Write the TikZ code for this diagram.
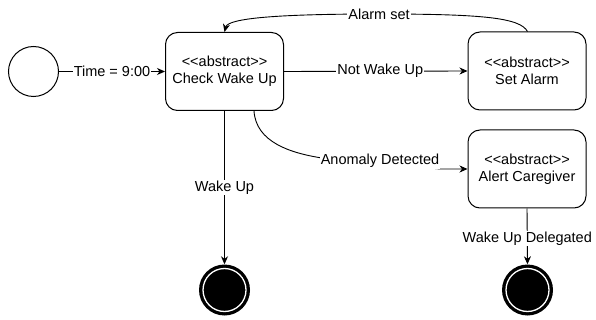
\documentclass[tikz,border=0pt]{standalone}
\usepackage{fontspec}
\setmainfont{Liberation Sans}
\usetikzlibrary{arrows.meta,calc}
\newcommand\stereo{<\kern0pt<abstract>\kern0pt>}
\tikzset{
  state/.style={draw=black, line width=1pt, rounded corners=12pt, minimum width=118pt, minimum height=78pt, align=center, fill=white, font=\fontsize{14.5}{17}\selectfont, inner sep=0pt},
  startstate/.style={draw=black, line width=1pt, circle, minimum size=50pt, inner sep=0pt, fill=white},
  endstate/.style={circle, fill=black, minimum size=51pt, inner sep=0pt},
  conn/.style={line width=0.9pt, -{Stealth[length=8pt,width=7pt,inset=2.5pt]}},
  lbl/.style={fill=white, inner sep=1pt, font=\fontsize{14.5}{17}\selectfont}
}
\begin{document}
\begin{tikzpicture}[x=1pt, y=-1pt]
\useasboundingbox (0,0) rectangle (596,320);
\node[startstate] (start) at (33.5,71.5) {};
\node[state] (cwu) at (224.5,71.5) {\stereo\\Check Wake Up};
\node[state] (sa) at (527,71) {\stereo\\Set Alarm};
\node[state] (ac) at (527,169) {\stereo\\Alert Caregiver};
\node[endstate] (end1) at (224.5,290) {};
\node[endstate] (end2) at (527.5,290) {};
\draw[white, line width=1.3pt] (end1.center) circle (21.5);
\draw[white, line width=1.3pt] (end2.center) circle (21.5);

% Time = 9:00
\draw[conn] (start.east) -- node[lbl]{Time = 9:00} (cwu.west);
% Not Wake Up
\draw[conn] (cwu.east) -- node[lbl, xshift=4.5pt]{Not Wake Up} (sa.west);
% Alarm set
\coordinate (as) at (379,14);
\draw[conn] ([xshift=0.5pt]sa.north) .. controls (520,18) and (485,14) .. (as)
  .. controls (280,14) and (228,18) .. (cwu.north);
\node[lbl] at (as) {Alarm set};
% Anomaly Detected
\coordinate (an1) at (322,158);
\coordinate (an2) at (440,169);
\draw[conn] ([xshift=29.5pt]cwu.south) .. controls (256,142) and (290,153) .. (an1) -- (an2) -- (an2 -| ac.west);
\node[lbl] at (380,161) {Anomaly Detected};
% Wake Up
\draw[conn] (cwu.south) -- node[lbl, pos=0.5]{Wake Up} (end1.north);
% Wake Up Delegated
\draw[conn] (ac.south) -- node[lbl, pos=0.54]{Wake Up Delegated} (end2.north);
\end{tikzpicture}
\end{document}
